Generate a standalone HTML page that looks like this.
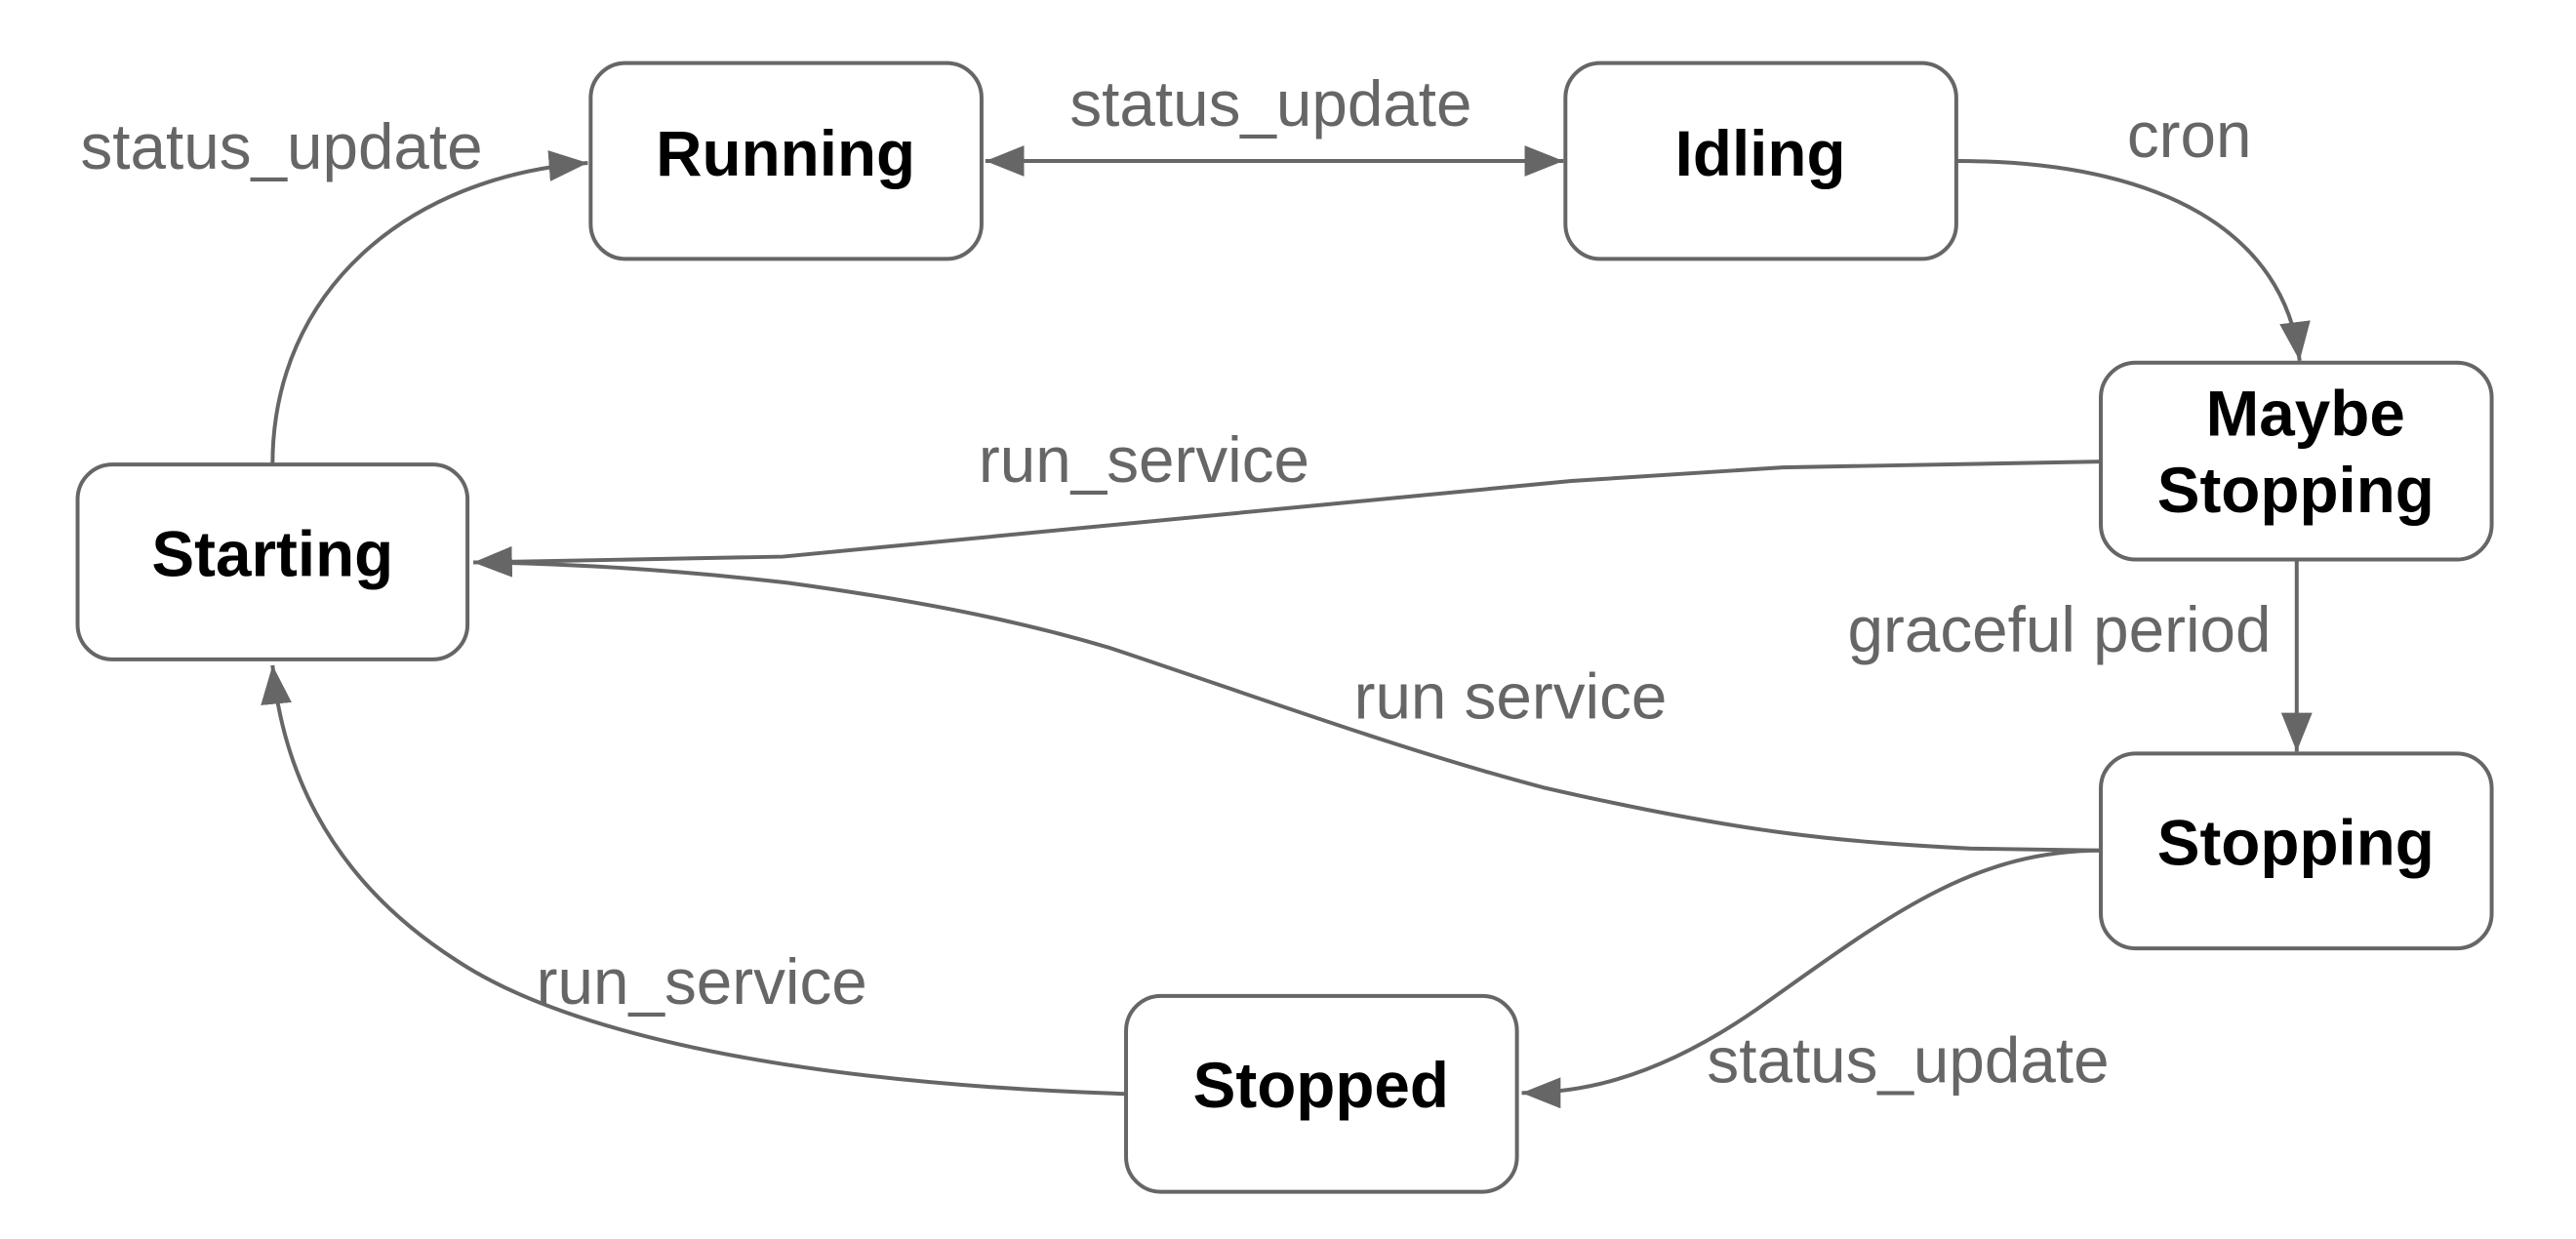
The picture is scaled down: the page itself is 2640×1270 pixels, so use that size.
<!DOCTYPE html>
<html><head><meta charset="utf-8"><style>
html,body{margin:0;padding:0;background:#fff;}
svg{display:block;}
.b{fill:#fff;stroke:#666;stroke-width:4;}
.n{font-family:"Liberation Sans",sans-serif;font-weight:bold;font-size:66px;fill:#000;text-anchor:middle;}
.l{font-family:"Liberation Sans",sans-serif;font-size:66px;fill:#666;}
.e{fill:none;stroke:#666;stroke-width:4;}
</style></head><body>
<svg width="2640" height="1270" viewBox="0 0 2640 1270" xmlns="http://www.w3.org/2000/svg">
<defs>
<marker id="a" markerUnits="userSpaceOnUse" markerWidth="42" markerHeight="32" refX="40" refY="16" orient="auto"><path d="M0,0 L40,16 L0,32 Z" fill="#666"/></marker>
<marker id="s" markerUnits="userSpaceOnUse" markerWidth="42" markerHeight="32" refX="2" refY="16" orient="auto"><path d="M42,0 L2,16 L42,32 Z" fill="#666"/></marker>
</defs>
<g transform="scale(0.994)">
<path class="e" d="M281,479 C281,300 420,182 606,168" marker-end="url(#a)"/>
<path class="e" d="M1016,166 L1612,166" marker-start="url(#s)" marker-end="url(#a)"/>
<path class="e" d="M2017,166 C2230,166 2355,240 2371,372" marker-end="url(#a)"/>
<path class="e" d="M2166,476 L1838,482 L1620,496 L807,574 L488,580" marker-end="url(#a)"/>
<path class="e" d="M2368,577 L2368,775" marker-end="url(#a)"/>
<path class="e" d="M2166,877 L2031,875 C1900,868 1800,860 1591,812 C1450,775 1300,720 1144,668 C1050,640 950,620 812,601 C700,588 600,582 508,580"/>
<path class="e" d="M2166,877 C2030,877 1940,950 1811,1041 C1700,1118 1620,1127 1569,1127" marker-end="url(#a)"/>
<path class="e" d="M1161,1128 C760,1115 560,1050 470,990 C330,900 290,780 281,686" marker-end="url(#a)"/>
<rect class="b" x="609" y="65" width="403" height="202" rx="36"/>
<rect class="b" x="1614" y="65" width="403" height="202" rx="36"/>
<rect class="b" x="2166" y="374" width="403" height="203" rx="36"/>
<rect class="b" x="2166" y="777" width="403" height="201" rx="36"/>
<rect class="b" x="80" y="479" width="402" height="201" rx="36"/>
<rect class="b" x="1161" y="1027" width="403" height="202" rx="36"/>
<text class="n" x="810" y="181">Running</text>
<text class="n" x="1815" y="181">Idling</text>
<text class="n" x="2377" y="449">Maybe</text>
<text class="n" x="2367" y="528">Stopping</text>
<text class="n" x="2367" y="892">Stopping</text>
<text class="n" x="281" y="594">Starting</text>
<text class="n" x="1362" y="1142">Stopped</text>
<text class="l" x="83" y="174">status_update</text>
<text class="l" x="1103" y="130">status_update</text>
<text class="l" x="2193" y="162">cron</text>
<text class="l" x="1009" y="497">run_service</text>
<text class="l" x="1905" y="672">graceful period</text>
<text class="l" x="1396" y="741">run service</text>
<text class="l" x="553" y="1035">run_service</text>
<text class="l" x="1760" y="1116">status_update</text>
</g>
</svg>
</body></html>
